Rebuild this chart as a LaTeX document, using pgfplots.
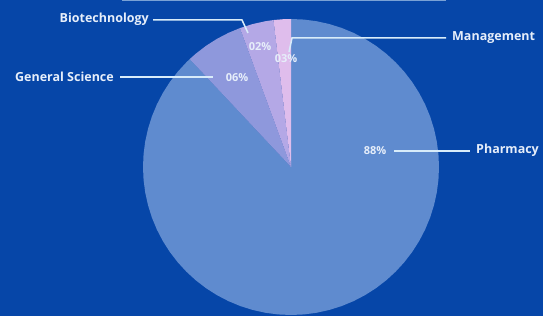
\documentclass[border=0pt]{standalone}
\usepackage{pgfplots}
\pgfplotsset{compat=1.18}
\usepackage{fontspec}
\setmainfont{Open Sans}
\definecolor{bg}{HTML}{0646A8}
\definecolor{pharm}{HTML}{5F8BCF}
\definecolor{gensci}{HTML}{8E98DC}
\definecolor{biotech}{HTML}{B4A8E6}
\definecolor{mgmt}{HTML}{DFBDEC}
\definecolor{txt}{HTML}{E6EEFA}
\definecolor{lead}{HTML}{D8ECFA}
\begin{document}
\begin{tikzpicture}[x=1pt,y=1pt]
\fill[bg] (0,0) rectangle (543,316);
\useasboundingbox (0,0) rectangle (543,316);
\draw[lead!55!bg, line width=1.8pt] (122,315.5) -- (446,315.5);
\begin{axis}[
  at={(291pt,149pt)}, anchor=center,
  scale only axis, width=296pt, height=296pt,
  xmin=-1, xmax=1, ymin=-1, ymax=1,
  hide axis, clip=false,
]
% Pharmacy 88%
\addplot[data cs=polar, fill=pharm, draw=none] coordinates {
(0,0) (133.2,1) (135,1) (140,1) (145,1) (150,1) (155,1) (160,1) (165,1) (170,1) (175,1)
(180,1) (185,1) (190,1) (195,1) (200,1) (205,1) (210,1) (215,1) (220,1) (225,1) (230,1)
(235,1) (240,1) (245,1) (250,1) (255,1) (260,1) (265,1) (270,1) (275,1) (280,1) (285,1)
(290,1) (295,1) (300,1) (305,1) (310,1) (315,1) (320,1) (325,1) (330,1) (335,1) (340,1)
(345,1) (350,1) (355,1) (360,1) (365,1) (370,1) (375,1) (380,1) (385,1) (390,1) (395,1)
(400,1) (405,1) (410,1) (415,1) (420,1) (425,1) (430,1) (435,1) (440,1) (445,1) (450,1)
(0,0)} \closedcycle;
% General Science
\addplot[data cs=polar, fill=gensci, draw=none] coordinates {
(0,0) (110.2,1) (115,1) (120,1) (125,1) (130,1) (133.2,1) (0,0)};
% Biotechnology
\addplot[data cs=polar, fill=biotech, draw=none] coordinates {
(0,0) (96.8,1) (100,1) (105,1) (110.2,1) (0,0)};
% Management
\addplot[data cs=polar, fill=mgmt, draw=none] coordinates {
(0,0) (90,1) (93,1) (96.8,1) (0,0)};
\end{axis}
\begin{scope}[every node/.style={text=txt, font=\bfseries\fontsize{12.5}{14}\selectfont, inner sep=0pt}]
\draw[lead, line width=1.5pt] (153,296) -- (242,296) -- (248,283);
\node[anchor=east] at (149,296.5) {Biotechnology};
\node[font=\bfseries\fontsize{11}{13}\selectfont] at (260,269) {02\%};
\node[font=\bfseries\fontsize{11}{13}\selectfont] at (286,257) {03\%};
\draw[lead, line width=1.5pt] (289,264) -- (292,278) -- (446,278);
\node[anchor=west] at (452,278.5) {Management};
\draw[lead, line width=1.5pt] (120,239) -- (213,239);
\node[anchor=east] at (114,239.5) {General Science};
\node[font=\bfseries\fontsize{11}{13}\selectfont] at (237,238) {06\%};
\draw[lead, line width=1.5pt] (394,165) -- (470,165);
\node[font=\bfseries\fontsize{11}{13}\selectfont] at (375,165) {88\%};
\node[anchor=west] at (476,165.5) {Pharmacy};
\end{scope}
\end{tikzpicture}
\end{document}
